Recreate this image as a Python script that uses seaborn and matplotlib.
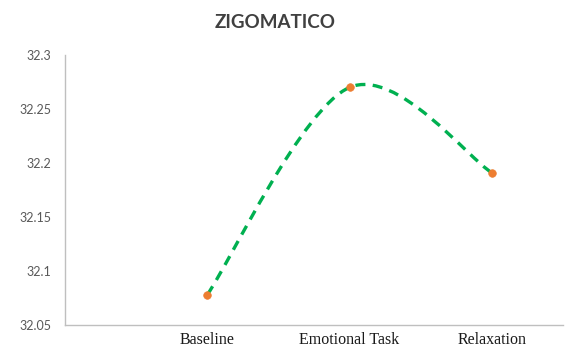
import numpy as np
import pandas as pd
import matplotlib
matplotlib.use("Agg")
import matplotlib.pyplot as plt
from matplotlib.path import Path
from matplotlib.patches import PathPatch
import seaborn as sns

# data
phases = ["Baseline", "Emotional Task", "Relaxation"]
positions = [1, 2, 3]
values = [32.078, 32.270, 32.191]
yticks = [32.05, 32.1, 32.15, 32.2, 32.25, 32.3]

df = pd.DataFrame({"pos": positions, "phase": phases, "value": values})

sns.set_style("white")
plt.rcParams["font.family"] = ["Lato", "DejaVu Sans"]

fig = plt.figure(figsize=(5.69, 3.51), dpi=100)
ax = fig.add_axes([0.1142, 0.0741, 0.8753, 0.7692])

# smoothed connecting line (excel style bezier through the points)
x = df["pos"].to_numpy(dtype=float)
y = df["value"].to_numpy(dtype=float)
verts = [(x[0], y[0])]
codes = [Path.MOVETO]
n = len(x)
for i in range(n - 1):
    p0 = (x[max(i - 1, 0)], y[max(i - 1, 0)])
    p1 = (x[i], y[i])
    p2 = (x[i + 1], y[i + 1])
    p3 = (x[min(i + 2, n - 1)], y[min(i + 2, n - 1)])
    c1 = (p1[0] + (p2[0] - p0[0]) / 6, p1[1] + (p2[1] - p0[1]) / 6)
    c2 = (p2[0] - (p3[0] - p1[0]) / 6, p2[1] - (p3[1] - p1[1]) / 6)
    verts += [c1, c2, p2]
    codes += [Path.CURVE4] * 3
ax.add_patch(PathPatch(Path(verts, codes), facecolor="none", edgecolor="#00B050",
                       lw=2.4, linestyle=(0, (3, 2.2)), zorder=2))

sns.scatterplot(data=df, x="pos", y="value", ax=ax, color="#ED7D31", s=30,
                edgecolor="#ED7D31", linewidth=0.5, zorder=3, legend=False)

ax.set_xlim(0, 3.5)
ax.set_ylim(32.05, 32.3)
ax.set_yticks(yticks)
ax.set_yticklabels([f"{t:g}" for t in yticks], fontsize=9, color="#595959")
ax.set_xticks(positions)
ax.set_xticklabels(phases, fontsize=11.5, family="Liberation Serif", color="#1a1a1a")
ax.tick_params(axis="both", length=0, pad=5)
ax.tick_params(axis="y", pad=10)
ax.set_xlabel("")
ax.set_ylabel("")

for side in ["top", "right"]:
    ax.spines[side].set_visible(False)
for side in ["left", "bottom"]:
    ax.spines[side].set_color("#BFBFBF")
    ax.spines[side].set_linewidth(1)

fig.text(275 / 569, 1 - 22 / 351, "ZIGOMATICO", ha="center", va="center",
         fontsize=13.5, fontweight="bold", color="#404040")

fig.savefig("out.png", dpi=100)
